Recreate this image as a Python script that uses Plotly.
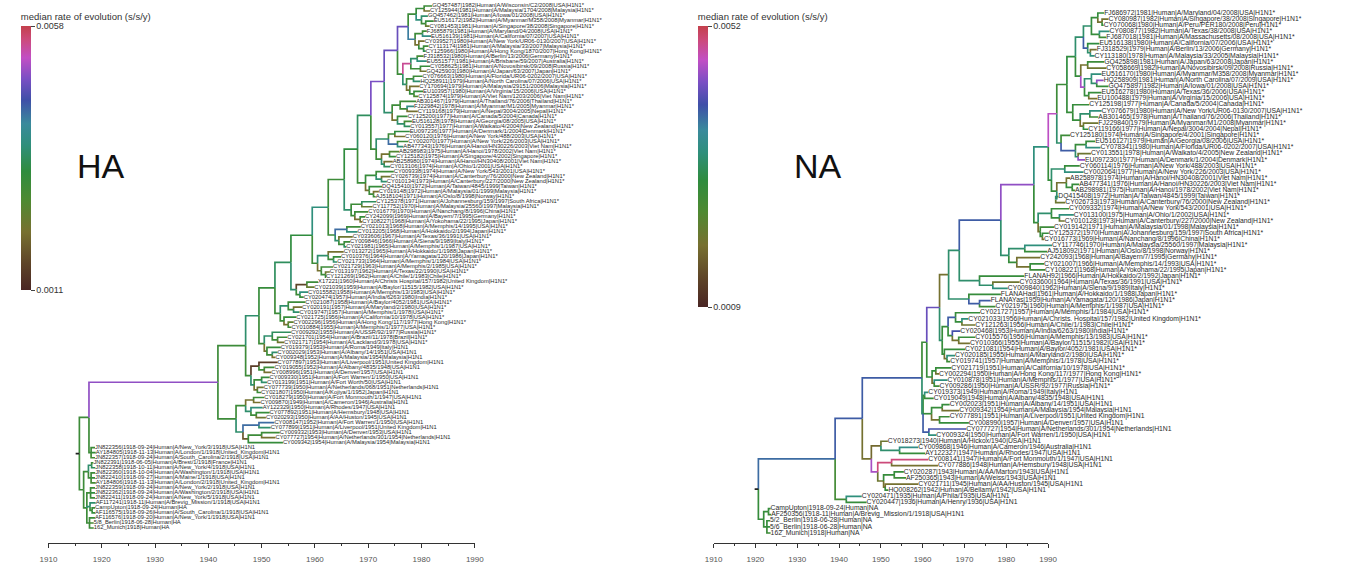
import plotly.graph_objects as go
from plotly.colors import sample_colorscale

# ---------------- data ----------------
AXIS_TICK_YEARS = [1910, 1920, 1930, 1940, 1950, 1960, 1970, 1980, 1990]

HA_RATE_MIN, HA_RATE_MAX = 0.0011, 0.0058
NA_RATE_MIN, NA_RATE_MAX = 0.0009, 0.0052
RATE_TICK_TEXT_HA = ["0.0011", "0.0058"]
RATE_TICK_TEXT_NA = ["0.0009", "0.0052"]

HA_LABELS = [
    "GQ457487|1982|Human|A/Wisconsin/C2/2008|USA|H1N1*",
    "CY125944|1981|Human|A/Malaysia/1704/2008|Malaysia|H1N1*",
    "GQ457462|1981|Human|A/Iowa/01/2008|USA|H1N1*",
    "EU516172|1982|Human|A/Myanmar/M358/2008|Myanmar|H1N1*",
    "CY081453|1981|Human|A/Singapore/38/2008|Singapore|H1N1*",
    "FJ685879|1981|Human|A/Maryland/04/2008|USA|H1N1*",
    "EU516139|1981|Human|A/California/07/2007|USA|H1N1*",
    "CY039527|1980|Human|A/New York/UR06-0130/2007|USA|H1N1*",
    "CY113174|1981|Human|A/Malaysia/33/2007|Malaysia|H1N1*",
    "CY125966|1980|Human|A/Hong Kong/1870/2007|Hong Kong|H1N1*",
    "FJ318532|1980|Human|A/Berlin/13/2006|Germany|H1N1*",
    "EU551577|1981|Human|A/Brisbane/59/2007|Australia|H1N1*",
    "CY058625|1981|Human|A/Novosibirsk/09/2008|Russia|H1N1*",
    "GQ425903|1980|Human|A/Japan/63/2007|Japan|H1N1*",
    "CY076663|1980|Human|A/Florida/UR06-0202/2007|USA|H1N1*",
    "HQ258911|1979|Human|A/North Carolina/07/2006|USA|H1N1*",
    "CY170694|1979|Human|A/Malaysia/29151/2006|Malaysia|H1N1*",
    "EU103957|1980|Human|A/Virginia/15/2006|USA|H1N1*",
    "CY125874|1979|Human|A/Viet Nam/1203/2006|Viet Nam|H1N1*",
    "AB301467|1979|Human|A/Thailand/76/2006|Thailand|H1N1*",
    "FJ229842|1978|Human|A/Myanmar/M1/2005|Myanmar|H1N1*",
    "CY119168|1979|Human|A/Nepal/3004/2005|Nepal|H1N1*",
    "CY125200|1977|Human|A/Canada/5/2004|Canada|H1N1*",
    "EU516128|1978|Human|A/Georgia/08/2005|USA|H1N1*",
    "CY013557|1977|Human|A/Waikato/4/2004|New Zealand|H1N1*",
    "EU097236|1977|Human|A/Denmark/1/2004|Denmark|H1N1*",
    "CY060120|1976|Human|A/New York/488/2003|USA|H1N1*",
    "CY002070|1977|Human|A/New York/226/2003|USA|H1N1*",
    "AB477343|1976|Human|A/Hanoi/HN30226/2003|Viet Nam|H1N1*",
    "AB298983|1975|Human|A/Hanoi/1978/2002|Viet Nam|H1N1*",
    "CY125182|1975|Human|A/Singapore/4/2002|Singapore|H1N1*",
    "AB258980|1974|Human|A/Hanoi/HN30408/2001|Viet Nam|H1N1*",
    "CY013106|1974|Human|A/Ohio/1/2001|USA|H1N1*",
    "CY009338|1974|Human|A/New York/543/2001|USA|H1N1*",
    "CY026739|1974|Human|A/Canterbury/76/2000|New Zealand|H1N1*",
    "CY010134|1973|Human|A/Canterbury/227/2000|New Zealand|H1N1*",
    "DQ415410|1972|Human|A/Taiwan/4845/1999|Taiwan|H1N1*",
    "CY019148|1972|Human|A/Malaysia/01/1999|Malaysia|H1N1*",
    "AJ518104|1971|Human|A/Oslo/8/1998|Norway|H1N1*",
    "CY125378|1971|Human|A/Johannesburg/159/1997|South Africa|H1N1*",
    "CY117752|1970|Human|A/Malaysia/25560/1997|Malaysia|H1N1*",
    "CY016779|1970|Human|A/Nanchang/8/1996|China|H1N1*",
    "CY242099|1969|Human|A/Bayern/7/1995|Germany|H1N1*",
    "CY108227|1968|Human|A/Yokohama/22/1995|Japan|H1N1*",
    "CY021013|1968|Human|A/Memphis/14/1995|USA|H1N1*",
    "CY013205|1968|Human|A/Hokkaido/2/1994|Japan|H1N1*",
    "CY033606|1967|Human|A/Texas/36/1991|USA|H1N1*",
    "CY009846|1966|Human|A/Siena/9/1989|Italy|H1N1*",
    "CY021981|1965|Human|A/Memphis/1/1987|USA|H1N1*",
    "CY013272|1965|Human|A/Hokkaido/1/1988|Japan|H1N1*",
    "CY010376|1964|Human|A/Yamagata/120/1986|Japan|H1N1*",
    "CY021733|1964|Human|A/Memphis/1/1984|USA|H1N1*",
    "CY021729|1963|Human|A/Memphis/2/1985|USA|H1N1*",
    "CY013197|1962|Human|A/Texas/22/1990|USA|H1N1*",
    "CY121269|1962|Human|A/Chile/1/1983|Chile|H1N1*",
    "X17221|1960|Human|A/Christs Hospital/157/1982|United Kingdom|H1N1*",
    "CY021039|1959|Human|A/Baylor/11515/1982|USA|H1N1*",
    "CY015582|1958|Human|A/Memphis/13/1983|USA|H1N1*",
    "CY020474|1957|Human|A/India/6263/1980|India|H1N1*",
    "CY021087|1958|Human|A/Baylor/4052/1981|USA|H1N1*",
    "CY020191|1957|Human|A/Maryland/2/1980|USA|H1N1*",
    "CY019747|1957|Human|A/Memphis/1/1978|USA|H1N1*",
    "CY021725|1956|Human|A/California/10/1978|USA|H1N1*",
    "CY002296|1956|Human|A/Hong Kong/117/1977|Hong Kong|H1N1*",
    "CY010884|1955|Human|A/Memphis/1/1977|USA|H1N1*",
    "CY009292|1955|Human|A/USSR/92/1977|Russia|H1N1*",
    "CY021701|1954|Human|A/Brazil/11/1978|Brazil|H1N1*",
    "CY021717|1954|Human|A/Lackland/3/1978|USA|H1N1*",
    "CY019379|1953|Human|A/Roma/1949|Italy|H1N1",
    "CY002029|1953|Human|A/Albany/14/1951|USA|H1N1",
    "CY009348|1952|Human|A/Malaysia/1954|Malaysia|H1N1",
    "CY077897|1953|Human|A/Liverpool/1951|United Kingdom|H1N1",
    "CY019055|1952|Human|A/Albany/4835/1948|USA|H1N1",
    "CY008996|1951|Human|A/Denver/1957|USA|H1N1",
    "CY009330|1951|Human|A/Fort Warren/1/1950|USA|H1N1",
    "CY013199|1951|Human|A/Fort Worth/50|USA|H1N1",
    "CY077739|1950|Human|A/Netherlands/068/1951|Netherlands|H1N1",
    "CY021807|1950|Human|A/Kojiya/1/1952|Japan|H1N1",
    "CY018279|1950|Human|A/Fort Monmouth/1/1947|USA|H1N1",
    "CY009870|1949|Human|A/Cameron/1946|Australia|H1N1",
    "AY122329|1950|Human|A/Rhodes/1947|USA|H1N1",
    "CY077892|1951|Human|A/Hemsbury/1948|USA|H1N1",
    "CY020293|1950|Human|A/AA/Huston/1945|USA|H1N1",
    "CY008147|1952|Human|A/Fort Warren/1/1950|USA|H1N1",
    "CY077899|1951|Human|A/Liverpool/1951|United Kingdom|H1N1",
    "CY009332|1953|Human|A/Denver/1953|USA|H1N1",
    "CY077727|1954|Human|A/Netherlands/301/1954|Netherlands|H1N1",
    "CY009342|1954|Human|A/Malaysia/1954|Malaysia|H1N1",
    "JN822356|1918-09-24|Human|A/New_York/3/1918|USA|H1N1",
    "AY184805|1918-11-13|Human|A/London/1/1918|United_Kingdom|H1N1",
    "JN822357|1918-09-24|Human|A/South_Carolina/2/1918|USA|H1N1",
    "JN822391|1918-06-05|Human|A/Brest/1/1918|France|H1N1",
    "JN822358|1918-10-11|Human|A/New_York/4/1918|USA|H1N1",
    "JN822360|1918-10-04|Human|A/Washington/1/1918|USA|H1N1",
    "JN822410|1918-09-27|Human|A/Maine/1/1918|USA|H1N1",
    "AY184806|1918-11-13|Human|A/London/2/1918|United_Kingdom|H1N1",
    "JN822359|1918-09-24|Human|A/New_York/2/1918|USA|H1N1",
    "JN822362|1918-09-24|Human|A/Washington/2/1918|USA|H1N1",
    "JN822411|1918-09-24|Human|A/New_York/5/1918|USA|H1N1",
    "AF117241|1918-11|Human|A/Brevig_Mission/1/1918|USA|H1N1",
    "CampUpton|1918-09-24|Human|HA",
    "AF116575|1918-09-26|Human|A/South_Carolina/1/1918|USA|H1N1",
    "AF116576|1918-09-20|Human|A/New_York/1/1918|USA|H1N1",
    "5/8_Berlin|1918-06-28|Human|HA",
    "162_Munich|1918|Human|HA",
]

HA_TIP_YEARS = [
    1982.0, 1981.6, 1981.2, 1982.3, 1981.5, 1981.0, 1981.8, 1980.6, 1981.3, 1980.8,
    1980.4, 1981.0, 1981.6, 1980.9, 1980.2, 1979.8, 1979.6, 1980.3, 1979.4,
    1979.0, 1978.6, 1979.3, 1977.4, 1978.2, 1977.9,
    1977.8, 1976.9, 1977.5, 1976.6, 1975.8, 1975.2, 1974.6, 1974.1,
    1974.8, 1974.2, 1973.5, 1972.6, 1972.0, 1971.4,
    1971.5, 1970.8, 1970.0, 1969.4, 1968.9,
    1968.6, 1968.0, 1967.1, 1966.6, 1965.9,
    1965.4, 1964.9, 1964.2, 1963.4, 1962.8, 1962.1,
    1960.6, 1959.9, 1958.7, 1957.9,
    1958.2, 1957.6, 1957.1, 1956.5, 1956.0, 1955.6,
    1955.5, 1954.8, 1954.2, 1953.6, 1953.0, 1952.6,
    1953.0, 1952.4, 1951.8, 1951.5, 1951.0, 1950.4, 1949.9,
    1950.5, 1949.8, 1950.2, 1951.5, 1950.8, 1952.4, 1951.7, 1953.4, 1952.6, 1954.0,
    1918.73, 1918.87, 1918.73, 1918.43, 1918.78, 1918.76, 1918.74, 1918.87, 1918.73,
    1918.73, 1918.73, 1918.85, 1918.73, 1918.74, 1918.72, 1918.49, 1918.5,
]

# median rate of the branch leading to each tip (x 1e-3 s/s/y)
HA_TIP_RATES = [
    3.0, 2.2, 3.6, 3.1, 2.4, 3.0, 3.8, 2.1, 3.0, 3.3, 2.9, 3.7, 3.1, 2.3, 3.0, 3.6, 2.2, 3.1, 2.8,
    3.0, 3.8, 2.2, 3.1, 2.9, 3.5,
    3.2, 2.1, 3.0, 3.7, 2.6, 3.1, 2.2, 3.4,
    3.0, 2.3, 3.6, 3.1, 2.2, 3.0,
    3.5, 2.4, 3.0, 3.1, 2.2,
    3.0, 3.7, 2.3, 3.0, 3.4,
    2.2, 3.1, 3.6, 3.0, 2.3, 3.1,
    3.0, 2.4, 3.7, 3.1,
    3.0, 2.2, 3.6, 3.1, 2.5, 3.0,
    3.5, 3.0, 2.3, 3.1, 3.6, 2.2,
    1.5, 3.0, 2.2, 3.1, 3.6, 2.3, 3.0,
    3.0, 2.2, 3.7, 3.1, 2.3, 4.3, 3.6, 3.0, 2.2, 3.1,
    3.0, 3.1, 2.9, 3.0, 3.5, 3.0, 3.1, 2.9, 3.0, 3.2, 3.0, 3.6, 3.0, 3.1, 3.0, 2.9, 3.0,
]

# internal nodes: [node year, branch rate (x 1e-3), children...]; ints are tip indices
HA_TOP_1 = [1977.5, 4.8, [1979.0, 3.0, [1980.5, 3.1, 0, 1], [1980.0, 3.7, 2, [1980.8, 3.0, 3, 4]]],
            [1978.8, 4.2, [1980.2, 3.0, 5, 6], [1979.5, 2.2, 7, [1980.4, 3.1, 8, 9]]]]
HA_TOP_2 = [1976.5, 3.0, [1978.0, 5.5, [1979.2, 3.6, 10, 11], [1979.8, 3.0, 12, 13]],
            [1977.2, 3.6, [1978.5, 3.0, 14, 15], [1977.8, 2.2, 16, [1978.6, 3.1, 17, 18]]]]
HA_SIDE_9 = [1974.5, 3.6, [1976.0, 3.0, 19, [1977.3, 3.0, 20, 21]], [1975.5, 2.2, 22, [1976.8, 3.6, 23, 24]]]
HA_SIDE_8 = [1971.5, 3.0, [1973.8, 3.6, [1975.0, 3.0, 25, 26], [1975.5, 4.3, 27, 28]],
             [1972.5, 3.0, [1974.0, 2.2, 29, 30], [1973.0, 3.6, 31, 32]]]
HA_SIDE_7 = [1969.5, 3.0, [1971.5, 3.1, 33, [1972.5, 3.6, 34, 35]], [1970.2, 2.2, 36, [1971.0, 3.0, 37, 38]]]
HA_SIDE_6 = [1966.8, 3.6, [1968.8, 3.0, 39, 40], [1967.5, 3.0, 41, [1968.5, 2.2, 42, 43]]]
HA_SIDE_5 = [1963.8, 3.0, [1966.0, 4.3, 44, 45], [1964.5, 3.6, 46, [1965.5, 3.0, 47, 48]]]
HA_SIDE_4 = [1960.5, 3.0, [1962.5, 3.6, 49, [1963.5, 3.0, 50, 51]], [1961.2, 2.2, 52, [1962.0, 3.0, 53, 54]]]
HA_SIDE_3 = [1956.5, 3.6, [1958.5, 1.6, 55, 56], [1957.2, 3.0, 57, 58]]
HA_SIDE_2 = [1953.5, 3.0, [1955.0, 3.6, 59, [1956.0, 3.0, 60, 61]], [1954.2, 3.0, 62, [1955.0, 2.2, 63, 64]]]
HA_SIDE_1 = [1950.5, 3.0, [1952.0, 3.6, 65, [1953.0, 3.0, 66, 67]], [1951.0, 2.2, 68, [1952.0, 3.0, 69, 70]]]
HA_SIDE_0 = [1948.0, 3.0, [1949.5, 1.5, 71, [1950.5, 3.0, 72, 73]], [1948.6, 3.6, [1950.0, 3.0, 74, 75], [1949.2, 2.2, 76, 77]]]
HA_LOWER = [1945.2, 3.0, [1947.0, 3.0, [1948.5, 2.2, 78, 79], [1948.0, 3.6, 80, [1949.0, 3.0, 81, 82]]],
            [1946.5, 3.6, [1949.5, 4.3, 83, 84], [1947.5, 1.8, [1950.0, 3.0, 85, 86], 87]]]
HA_1918_A = [1918.0, 3.0, 88, 89, 90]
HA_1918_B = [1916.6, 3.0, [1917.5, 3.0, [1918.1, 3.6, 91, 92], [1918.0, 3.0, 93, 94, 95]],
             [1917.2, 3.0, [1917.9, 3.0, 96, 97, 98], [1917.8, 3.6, 99, [1918.2, 3.0, 100, 101]], [1917.7, 3.0, 102, 103, 104]]]
# backbone (trunk) nodes from the 1940s up to the most recent clade: (year, rate)
HA_SPINE = [(1947.0, 3.0), (1949.5, 3.6), (1952.5, 3.1), (1955.5, 3.5), (1959.5, 3.2), (1962.5, 3.7),
            (1965.5, 3.0), (1968.0, 3.2), (1970.5, 3.5), (1973.0, 4.9), (1975.5, 4.7)]
HA_SPINE_SIDES = [HA_SIDE_0, HA_SIDE_1, HA_SIDE_2, HA_SIDE_3, HA_SIDE_4, HA_SIDE_5,
                  HA_SIDE_6, HA_SIDE_7, HA_SIDE_8, HA_SIDE_9, HA_TOP_2]
HA_STEM = [(1941.8, 5.0), (1917.6, 3.0), (1915.8, 3.0)]   # node A, node P, root

NA_LABELS = [
    "FJ686972|1981|Human|A/Maryland/04/2008|USA|H1N1*",
    "CY080987|1982|Human|A/Singapore/38/2008|Singapore|H1N1*",
    "CY070068|1980|Human|A/Peru/PER180/2008|Peru|H1N1*",
    "CY080877|1982|Human|A/Texas/38/2008|USA|H1N1*",
    "FJ687018|1981|Human|A/Massachusetts/08/2008|USA|H1N1*",
    "EU516138|1980|Human|A/California/07/2006|USA|H1N1*",
    "FJ318529|1979|Human|A/Berlin/13/2006|Germany|H1N1*",
    "CY113180|1978|Human|A/Malaysia/33/2005|Malaysia|H1N1*",
    "GQ425898|1981|Human|A/Japan/63/2008|Japan|H1N1*",
    "CY058669|1982|Human|A/Novosibirsk/09/2008|Russia|H1N1*",
    "EU516170|1980|Human|A/Myanmar/M358/2008|Myanmar|H1N1*",
    "HQ258909|1981|Human|A/North Carolina/07/2009|USA|H1N1*",
    "GQ475897|1982|Human|A/Iowa/01/2008|USA|H1N1*",
    "EU516278|1980|Human|A/Texas/36/2006|USA|H1N1*",
    "EU100488|1979|Human|A/Virginia/15/2006|USA|H1N1*",
    "CY125198|1977|Human|A/Canada/5/2004|Canada|H1N1*",
    "CY076679|1980|Human|A/New York/UR06-0130/2007|USA|H1N1*",
    "AB301465|1978|Human|A/Thailand/76/2006|Thailand|H1N1*",
    "FJ229840|1979|Human|A/Myanmar/M1/2008|Myanmar|H1N1*",
    "CY119166|1977|Human|A/Nepal/3004/2004|Nepal|H1N1*",
    "CY125180|1974|Human|A/Singapore/4/2001|Singapore|H1N1*",
    "EU516127|1979|Human|A/Georgia/08/2006|USA|H1N1*",
    "CY078341|1980|Human|A/Florida/UR06-0202/2007|USA|H1N1*",
    "CY013551|1978|Human|A/Waikato/4/2005|New Zealand|H1N1*",
    "EU097230|1977|Human|A/Denmark/1/2004|Denmark|H1N1*",
    "CY060114|1976|Human|A/New York/488/2003|USA|H1N1*",
    "CY002064|1977|Human|A/New York/226/2003|USA|H1N1*",
    "AB258978|1974|Human|A/Hanoi/HN30408/2001|Viet Nam|H1N1*",
    "AB477341|1976|Human|A/Hanoi/HN30226/2003|Viet Nam|H1N1*",
    "AB298981|1975|Human|A/Hanoi/1978/2002|Viet Nam|H1N1*",
    "DQ415408|1972|Human|A/Taiwan/4845/1999|Taiwan|H1N1*",
    "CY026733|1973|Human|A/Canterbury/76/2000|New Zealand|H1N1*",
    "CY009332|1974|Human|A/New York/543/2001|USA|H1N1*",
    "CY013100|1975|Human|A/Ohio/1/2002|USA|H1N1*",
    "CY010128|1973|Human|A/Canterbury/227/2000|New Zealand|H1N1*",
    "CY019142|1971|Human|A/Malaysia/01/1998|Malaysia|H1N1*",
    "CY125372|1970|Human|A/Johannesburg/159/1997|South Africa|H1N1*",
    "CY016773|1969|Human|A/Nanchang/8/1996|China|H1N1*",
    "CY117746|1970|Human|A/Malaysia/25560/1997|Malaysia|H1N1*",
    "AJ518092|1971|Human|A/Oslo/8/1998|Norway|H1N1*",
    "CY242093|1968|Human|A/Bayern/7/1995|Germany|H1N1*",
    "CY021007|1966|Human|A/Memphis/14/1993|USA|H1N1*",
    "CY108221|1968|Human|A/Yokohama/22/1995|Japan|H1N1*",
    "FLANAH92|1966|Human|A/Hokkaido/2/1992|Japan|H1N1*",
    "CY033600|1964|Human|A/Texas/36/1991|USA|H1N1*",
    "CY009840|1962|Human|A/Siena/9/1989|Italy|H1N1*",
    "FLANAHad|1961|Human|A/Hokkaido/1/1988|Japan|H1N1*",
    "FLANAYas|1959|Human|A/Yamagata/120/1986|Japan|H1N1*",
    "CY021975|1960|Human|A/Memphis/1/1987|USA|H1N1*",
    "CY021727|1957|Human|A/Memphis/1/1984|USA|H1N1*",
    "CY021033|1956|Human|A/Christs. Hospital/157/1982|United Kingdom|H1N1*",
    "CY121263|1956|Human|A/Chile/1/1983|Chile|H1N1*",
    "CY020468|1953|Human|A/India/6263/1980|India|H1N1*",
    "CY015576|1956|Human|A/Memphis/13/1983|USA|H1N1*",
    "CY010366|1955|Human|A/Baylor/11515/1982|USA|H1N1*",
    "CY021081|1954|Human|A/Baylor/4052/1981|USA|H1N1*",
    "CY020185|1955|Human|A/Maryland/2/1980|USA|H1N1*",
    "CY019741|1957|Human|A/Memphis/1/1978|USA|H1N1*",
    "CY021719|1951|Human|A/California/10/1978|USA|H1N1*",
    "CY002294|1950|Human|A/Hong Kong/117/1977|Hong Kong|H1N1*",
    "CY010878|1951|Human|A/Memphis/1/1977|USA|H1N1*",
    "CY009286|1950|Human|A/USSR/92/1977|Russia|H1N1*",
    "CY019373|1949|Human|A/Roma/1949|Italy|H1N1",
    "CY019049|1948|Human|A/Albany/4835/1948|USA|H1N1",
    "CY002023|1951|Human|A/Albany/14/1951|USA|H1N1",
    "CY009342|1954|Human|A/Malaysia/1954|Malaysia|H1N1",
    "CY077891|1951|Human|A/Liverpool/1951|United Kingdom|H1N1",
    "CY008990|1957|Human|A/Denver/1957|USA|H1N1",
    "CY077727|1954|Human|A/Netherlands/301/1954|Netherlands|H1N1",
    "CY009324|1950|Human|A/Fort Warren/1/1950|USA|H1N1",
    "CY018273|1940|Human|A/Hickox/1940|USA|H1N1",
    "CY009868|1946|Human|A/Cameron/1946|Australia|H1N1",
    "AY122327|1947|Human|A/Rhodes/1947|USA|H1N1",
    "CY008141|1947|Human|A/Fort Monmouth/1/1947|USA|H1N1",
    "CY077886|1948|Human|A/Hemsbury/1948|USA|H1N1",
    "CY020287|1943|Human|A/AA/Marton/1943|USA|H1N1",
    "AF250365|1943|Human|A/Weiss/1943|USA|H1N1",
    "CY021711|1945|Human|A/AA/Huston/1945|USA|H1N1",
    "HQ008262|1942|Human|A/Bellamy/1942|USA|H1N1",
    "CY020471|1935|Human|A/Phila/1935|USA|H1N1",
    "CY020447|1936|Human|A/Henry/1936|USA|H1N1",
    "CampUpton|1918-09-24|Human|NA",
    "AF250356|1918-11|Human|A/Brevig_Mission/1/1918|USA|H1N1",
    "5/2_Berlin|1918-06-28|Human|NA",
    "5/6_Berlin|1918-06-28|Human|NA",
    "162_Munich|1918|Human|NA",
]

NA_TIP_YEARS = [
    1980.9, 1981.7, 1980.8, 1981.9, 1981.3, 1980.0, 1979.5, 1979.1,
    1980.9, 1981.3, 1980.4, 1980.8, 1981.7, 1980.4, 1979.6,
    1978.1, 1980.4, 1979.8, 1979.8, 1977.9,
    1974.5, 1979.2, 1980.2, 1978.4, 1977.3,
    1976.3, 1977.0, 1974.5, 1976.2, 1975.4, 1972.3, 1973.6,
    1974.3, 1975.2, 1973.5, 1971.5, 1970.5, 1969.6,
    1971.1, 1970.2, 1968.9, 1969.6, 1969.8,
    1965.9, 1965.0, 1962.8,
    1961.5, 1959.6, 1960.5,
    1957.6, 1955.4, 1956.7, 1953.9, 1956.7, 1955.7, 1954.8, 1952.9, 1952.0,
    1952.2, 1949.9, 1951.5, 1950.0,
    1947.9, 1948.9, 1951.9, 1953.7, 1951.9, 1955.5, 1955.0, 1949.4,
    1940.3, 1946.0, 1947.3, 1947.9, 1949.7, 1943.3, 1943.7, 1946.0, 1940.4,
    1935.4, 1936.3,
    1918.3, 1918.4, 1918.2, 1918.2, 1918.3,
]

NA_TIP_RATES = [
    2.7, 1.9, 2.7, 3.3, 2.6, 2.8, 1.9, 3.3,
    2.6, 2.0, 3.3, 4.4, 2.7, 2.7, 1.9,
    2.7, 3.3, 2.6, 2.0, 2.8,
    2.6, 2.7, 3.3, 2.0, 4.5,
    2.7, 3.3, 1.9, 2.7, 2.6, 3.2, 2.0,
    2.7, 3.3, 2.0, 2.6, 2.7, 1.9,
    3.3, 2.7, 1.9, 2.7, 2.6,
    2.7, 2.0, 3.3,
    2.7, 3.9, 2.6,
    2.7, 3.3, 2.0, 4.0, 2.7, 1.9, 2.7, 3.3, 2.6,
    2.7, 2.0, 3.3, 2.6,
    3.3, 2.7, 2.7, 1.9, 2.6, 2.7, 4.0, 3.3,
    2.0, 3.4, 2.7, 5.0, 1.9, 2.7, 2.6, 1.9, 2.7,
    3.3, 2.7,
    2.7, 2.6, 2.7, 2.8, 2.6,
]

NA_TOP_A = [1978.5, 3.2, [1979.7, 2.7, 0, [1980.5, 1.9, 1, 2]], [1980.0, 2.7, 3, 4]]
NA_TOP_B = [1977.8, 3.9, 5, [1978.3, 3.2, 6, 7]]
NA_SIDE_J = [1976.5, 2.7, [1977.8, 1.9, 8, 9], [1977.2, 4.6, [1978.5, 3.2, 10, [1979.5, 3.2, 11, 12]], [1978.0, 2.7, 13, 14]]]
NA_SIDE_I = [1975.0, 2.7, 15, [1976.4, 2.7, [1978.2, 3.2, 16, 17], [1977.0, 1.9, 18, 19]]]
NA_SIDE_H = [1972.8, 3.2, 20, [1975.5, 3.9, [1977.5, 2.7, 21, 22], [1976.0, 3.2, 23, 24]]]
NA_SIDE_G = [1971.0, 2.7, [1973.5, 3.2, 25, 26], [1972.0, 2.7, [1973.8, 1.9, 27, [1974.9, 2.7, 28, 29]], [1971.8, 3.2, 30, 31]]]
NA_SIDE_F = [1968.5, 2.7, [1971.0, 3.2, 32, [1972.5, 2.7, 33, 34]], [1968.9, 1.9, 35, [1969.3, 2.7, 36, 37]]]
NA_SIDE_E = [1963.0, 3.2, [1966.0, 3.2, 38, 39], [1964.5, 2.7, 40, [1967.0, 1.9, 41, 42]]]
NA_SIDE_D = [1957.5, 3.2, 43, [1960.0, 3.2, 44, 45]]
NA_SIDE_C = [1955.5, 3.2, 46, [1957.5, 3.9, 47, 48]]
NA_SIDE_B = [1950.5, 3.2, [1951.6, 2.7, [1953.0, 3.9, 49, [1954.2, 2.7, 50, 51]], [1952.4, 2.7, 52, [1953.6, 1.9, 53, 54]]],
             [1950.9, 2.7, 55, [1951.4, 1.9, 56, 57]]]
NA_SIDE_A = [1948.6, 2.7, [1949.3, 2.7, 58, 59], [1949.0, 1.9, 60, 61]]
NA_1950S = [1946.9, 3.2, [1947.2, 2.7, 62, 63], [1948.5, 2.7, [1950.5, 2.7, 64, 65], [1950.0, 1.9, 66, 67]], [1948.0, 3.9, 68, 69]]
NA_1940S = [1937.2, 1.9, [1939.0, 1.8, 70, [1942.5, 3.2, 71, 72]],
            [1938.4, 4.6, [1941.0, 5.0, 73, 74], [1939.5, 2.0, [1941.5, 2.7, 75, 76], [1939.8, 1.9, 77, 78]]]]
NA_1930S = [1932.5, 2.5, 79, 80]
NA_1918 = [1917.0, 2.7, [1917.9, 2.7, 81, 82], [1917.6, 2.7, 83, 84, 85]]
NA_SPINE = [(1947.6, 2.6), (1950.0, 4.2), (1951.7, 1.9), (1953.7, 3.2), (1961.5, 3.9), (1967.7, 4.4),
            (1970.4, 3.3), (1972.0, 4.7), (1973.9, 2.6), (1975.5, 2.8), (1977.0, 3.2)]
NA_SPINE_SIDES = [NA_SIDE_A, NA_SIDE_B, NA_SIDE_C, NA_SIDE_D, NA_SIDE_E, NA_SIDE_F,
                  NA_SIDE_G, NA_SIDE_H, NA_SIDE_I, NA_SIDE_J, NA_TOP_B]
NA_STEM = [(1946.7, 3.9), (1935.5, 3.9), (1930.4, 3.8), (1916.0, 2.7)]  # E, G, B, root

# ---------------- assemble trees ----------------
def spine_tree(spine, sides, top):
    node = top
    for (t, r), side in zip(reversed(spine), reversed(sides)):
        node = [t, r, node, side]
    return node

ha_trunk = spine_tree(HA_SPINE, HA_SPINE_SIDES, HA_TOP_1)
ha_A = [HA_STEM[0][0], HA_STEM[0][1], ha_trunk, HA_LOWER]
ha_P = [HA_STEM[1][0], HA_STEM[1][1], ha_A, HA_1918_A]
HA_TREE = [HA_STEM[2][0], HA_STEM[2][1], ha_P, HA_1918_B]

na_trunk = spine_tree(NA_SPINE, NA_SPINE_SIDES, NA_TOP_A)
na_E = [NA_STEM[0][0], NA_STEM[0][1], na_trunk, NA_1950S]
na_G = [NA_STEM[1][0], NA_STEM[1][1], na_E, NA_1940S]
na_B = [NA_STEM[2][0], NA_STEM[2][1], na_G, NA_1930S]
NA_TREE = [NA_STEM[3][0], NA_STEM[3][1], na_B, NA_1918]

COLORSCALE = [
    [0.00, "#4a2624"], [0.10, "#5e4428"], [0.22, "#777030"], [0.34, "#4e8a32"],
    [0.45, "#2f8c3e"], [0.55, "#2f8f7c"], [0.63, "#3a8a9c"], [0.72, "#3f4fa8"],
    [0.80, "#7a4fc4"], [0.88, "#c24fc4"], [0.95, "#cc4a7a"], [1.00, "#c4404c"],
]


def layout_tree(tree, tip_years, tip_rates):
    segs = []
    order = []

    def place(node):
        if isinstance(node, int):
            y = -len(order)
            order.append(node)
            return tip_years[node], y
        t = node[0]
        kids = []
        for ch in node[2:]:
            cx, cy = place(ch)
            rate = tip_rates[ch] if isinstance(ch, int) else ch[1]
            kids.append((max(cx, t), cy, rate))
        ny = (kids[0][1] + kids[-1][1]) / 2.0
        for cx, cy, rate in kids:
            segs.append(([t, t, cx], [ny, cy, cy], rate))
        return t, ny

    rx, ry = place(tree)
    return segs, order, rx, ry


fig = go.Figure()
FONT = "Liberation Sans, Arial, sans-serif"


def add_tree(tree, labels, tip_years, tip_rates, rmin, rmax, xa, ya, fsize):
    segs, order, rx, ry = layout_tree(tree, tip_years, tip_rates)
    bins = {}
    for xs, ys, rate in segs:
        t = (rate * 1e-3 - rmin) / (rmax - rmin)
        t = min(1.0, max(0.0, t))
        b = round(t * 40) / 40
        bx, by = bins.setdefault(b, ([], []))
        bx.extend(xs + [None])
        by.extend(ys + [None])
    for b, (bx, by) in sorted(bins.items()):
        col = sample_colorscale(COLORSCALE, [b])[0]
        fig.add_trace(go.Scatter(x=bx, y=by, mode="lines", xaxis=xa, yaxis=ya,
                                 line=dict(color=col, width=1.7), hoverinfo="skip",
                                 showlegend=False, cliponaxis=False))
    # root mark
    fig.add_trace(go.Scatter(x=[rx - 0.7, rx], y=[ry, ry], mode="lines", xaxis=xa, yaxis=ya,
                             line=dict(color="#222", width=1.7), hoverinfo="skip", showlegend=False))
    fig.add_trace(go.Scatter(
        x=[tip_years[i] for i in order], y=[-k for k in range(len(order))],
        text=[labels[i] for i in order], mode="text", textposition="middle right",
        textfont=dict(size=fsize, color="#2a2a2a", family=FONT), cliponaxis=False,
        xaxis=xa, yaxis=ya, hoverinfo="skip", showlegend=False))
    return len(order)


n_ha = add_tree(HA_TREE, HA_LABELS, HA_TIP_YEARS, HA_TIP_RATES, HA_RATE_MIN, HA_RATE_MAX, "x", "y", 5.8)
n_na = add_tree(NA_TREE, NA_LABELS, NA_TIP_YEARS, NA_TIP_RATES, NA_RATE_MIN, NA_RATE_MAX, "x2", "y2", 6.8)

PLOT_H = 543.0
W = 1364.0


def yrange(n, top_px, bot_px):
    s = (bot_px - top_px) / (n - 1)
    ymax = top_px / s
    return [ymax - PLOT_H / s, ymax]


def colorbar_trace(rmin, rmax, ticktext, xa, ya, xpx, top_px, len_px):
    return go.Scatter(
        x=[1950], y=[-10], mode="markers", xaxis=xa, yaxis=ya, hoverinfo="skip", showlegend=False,
        marker=dict(size=1, opacity=0, color=[rmin], cmin=rmin, cmax=rmax, colorscale=COLORSCALE,
                    showscale=True,
                    colorbar=dict(x=xpx / W, xanchor="left", y=1 - top_px / PLOT_H, yanchor="top",
                                  len=len_px, lenmode="pixels", thickness=10, thicknessmode="pixels",
                                  outlinewidth=0, xpad=0, ypad=0,
                                  tickvals=[rmin, rmax], ticktext=ticktext, ticks="outside",
                                  ticklen=4, tickcolor="#444",
                                  tickfont=dict(size=9, color="#333", family=FONT),
                                  title=dict(text="median rate of evolution (s/s/y)", side="top",
                                             font=dict(size=9.5, color="#333", family=FONT)))))


fig.add_trace(colorbar_trace(HA_RATE_MIN, HA_RATE_MAX, RATE_TICK_TEXT_HA, "x", "y", 12, 10, 280))
fig.add_trace(colorbar_trace(NA_RATE_MIN, NA_RATE_MAX, RATE_TICK_TEXT_NA, "x3", "y2", 698, 10, 297))

# invisible trace to show the NA time axis
fig.add_trace(go.Scatter(x=[1910, 1990], y=[-10, -10], mode="markers", xaxis="x3", yaxis="y2",
                         marker=dict(opacity=0, size=1), hoverinfo="skip", showlegend=False))

axis_style = dict(range=[1910, 1990], tickmode="array", tickvals=AXIS_TICK_YEARS,
                  ticks="outside", ticklen=4, tickcolor="#333", tickwidth=1,
                  showline=True, linecolor="#333", linewidth=1, showgrid=False, zeroline=False,
                  tickfont=dict(size=8, color="#555", family=FONT),
                  minor=dict(tickvals=[1915, 1925, 1935, 1945, 1955, 1965, 1975, 1985],
                             ticks="outside", ticklen=2, tickcolor="#333"),
                  ticklabelstandoff=4)

fig.update_layout(
    width=1364, height=570, margin=dict(l=0, r=0, t=0, b=27),
    paper_bgcolor="white", plot_bgcolor="rgba(0,0,0,0)", showlegend=False,
    xaxis=dict(domain=[40 / W, 472 / W], anchor="y", **axis_style),
    xaxis2=dict(domain=[727 / W, 1159 / W], anchor="y2", range=[1910, 1990], visible=False),
    xaxis3=dict(domain=[714 / W, 1053 / W], anchor="y2", **axis_style),
    yaxis=dict(domain=[0, 1], range=yrange(n_ha, 6, 528), visible=False),
    yaxis2=dict(domain=[0, 1], range=yrange(n_na, 13, 533), visible=False),
    annotations=[
        dict(text="HA", x=67 / W, y=1 - 145 / PLOT_H, xref="paper", yref="paper", showarrow=False,
             font=dict(size=34, color="#111", family=FONT)),
        dict(text="NA", x=820 / W, y=1 - 145 / PLOT_H, xref="paper", yref="paper", showarrow=False,
             font=dict(size=34, color="#111", family=FONT)),
    ],
)

fig.write_html("out.html")
